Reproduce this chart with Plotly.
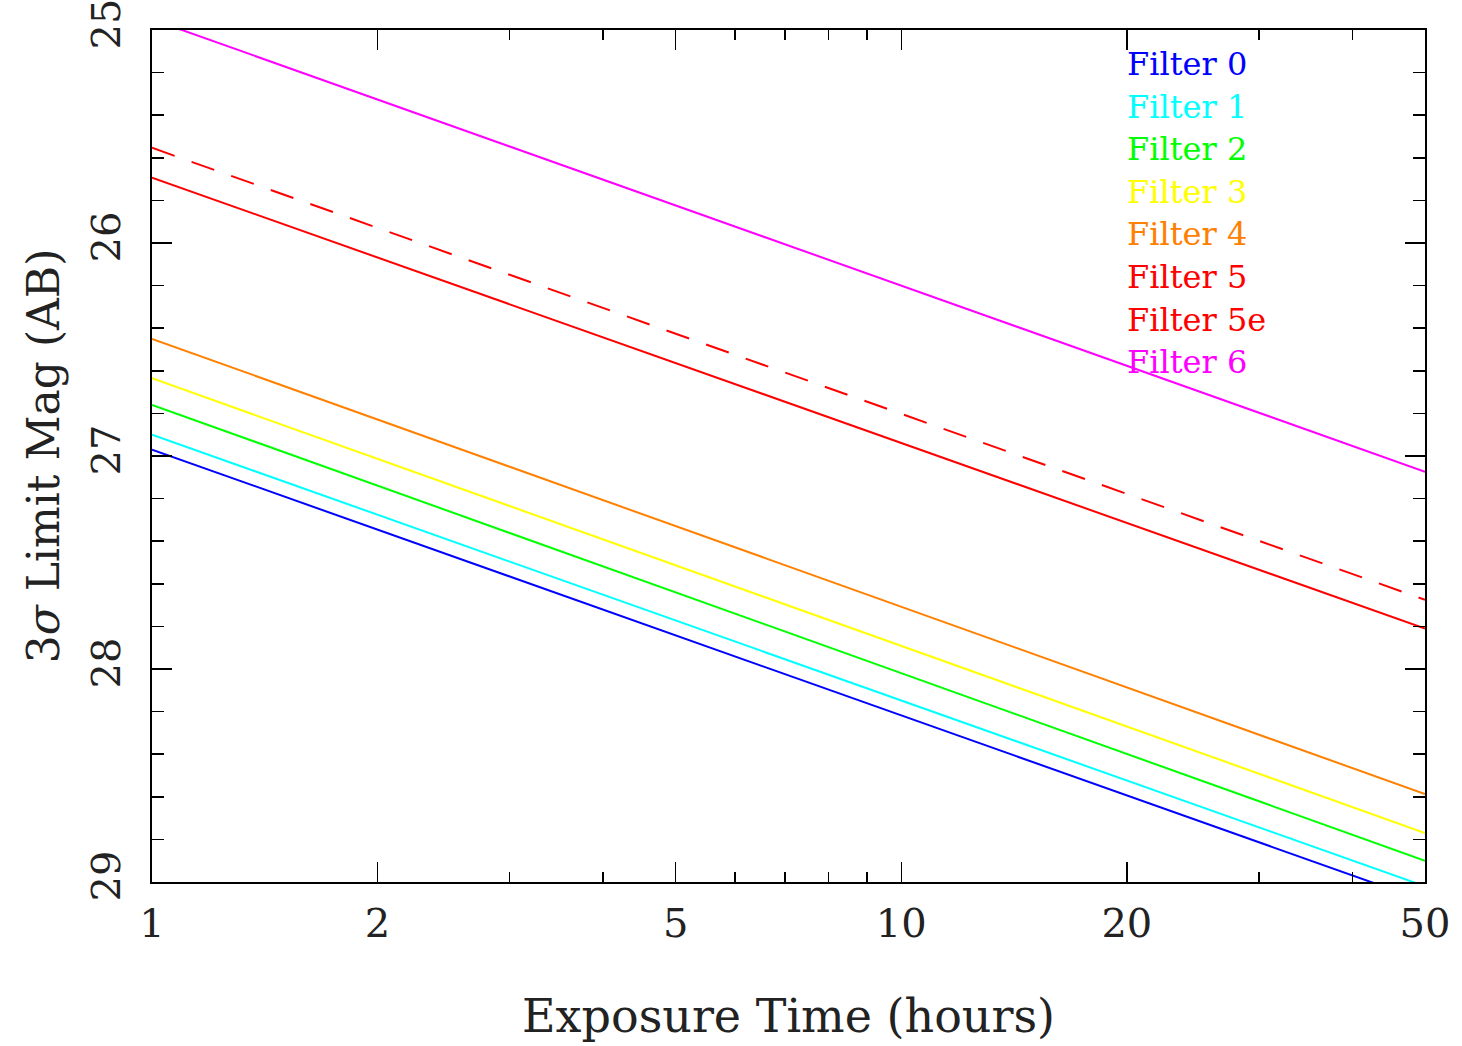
import plotly.graph_objects as go

# Exposure time (hours) at the two ends of each line
exposure_hours = [1, 50]

# 3-sigma limiting magnitude (AB) read at t = 1 h and t = 50 h
filter_0 = [26.97, 29.09]
filter_1 = [26.90, 29.02]
filter_2 = [26.76, 28.90]
filter_3 = [26.635, 28.77]
filter_4 = [26.45, 28.587]
filter_5 = [25.693, 27.81]
filter_5e = [25.553, 27.675]
filter_6 = [24.95, 27.074]

series_names = ["Filter 0", "Filter 1", "Filter 2", "Filter 3",
                "Filter 4", "Filter 5", "Filter 5e", "Filter 6"]
series_values = [filter_0, filter_1, filter_2, filter_3,
                 filter_4, filter_5, filter_5e, filter_6]
series_colors = ["#0000ff", "#00ffff", "#00ff00", "#ffff00",
                 "#ff8000", "#ff0000", "#ff0000", "#ff00ff"]
series_dash = ["solid", "solid", "solid", "solid",
               "solid", "solid", "24px,18px", "solid"]

x_tick_vals = [1, 2, 5, 10, 20, 50]
x_tick_text = ["1", "2", "5", "10", "20", "50"]
x_minor_vals = [3, 4, 6, 7, 8, 9, 30, 40]
y_tick_vals = [25, 26, 27, 28, 29]

FONT = "DejaVu Serif"

fig = go.Figure()
for name, vals, col, dash in zip(series_names, series_values, series_colors, series_dash):
    fig.add_trace(go.Scatter(
        x=exposure_hours, y=vals, mode="lines", name=name,
        line=dict(color=col, width=2, dash=dash),
        showlegend=False, cliponaxis=True,
    ))

# text legend (coloured labels only)
for i, (name, col) in enumerate(zip(series_names, series_colors)):
    fig.add_annotation(
        x=0.764, y=1 - (34 + i * 42.6) / 852, xref="paper", yref="paper",
        text=name, showarrow=False, xanchor="left", yanchor="middle",
        font=dict(family=FONT, size=32, color=col),
    )

fig.update_xaxes(
    type="log", range=[0, 1.69897], automargin=False,
    tickvals=x_tick_vals, ticktext=x_tick_text,
    ticks="inside", ticklen=20, tickwidth=1.5, tickcolor="black",
    minor=dict(tickvals=x_minor_vals, ticks="inside", ticklen=10,
               tickwidth=1.5, tickcolor="black"),
    showline=True, linecolor="black", linewidth=2, mirror="allticks",
    showgrid=False, zeroline=False,
    tickfont=dict(family=FONT, size=40, color="#222"),
    ticklabelstandoff=5, ticklabeloverflow="allow",
    title=dict(text="Exposure Time (hours)", standoff=55,
               font=dict(family=FONT, size=46, color="#222")),
)
fig.update_yaxes(
    range=[29, 25], automargin=False,
    tickvals=y_tick_vals,
    ticks="inside", ticklen=20, tickwidth=1.5, tickcolor="black",
    minor=dict(dtick=0.2, ticks="inside", ticklen=12,
               tickwidth=1.5, tickcolor="black"),
    showline=True, linecolor="black", linewidth=2, mirror="allticks",
    showgrid=False, zeroline=False,
    tickangle=-90,
    tickfont=dict(family=FONT, size=40, color="#222"),
    ticklabelstandoff=14, ticklabeloverflow="allow",
    title=dict(text="3<i>σ</i> Limit Mag (AB)", standoff=10,
               font=dict(family=FONT, size=44, color="#222")),
)
fig.update_layout(
    width=1462, height=1046,
    margin=dict(l=152, r=37, t=30, b=164),
    paper_bgcolor="white", plot_bgcolor="white",
    showlegend=False,
)
fig.write_html("out.html",
               config={"displayModeBar": False, "staticPlot": True},
               post_script="document.body.style.margin='0';document.body.style.overflow='hidden';")
